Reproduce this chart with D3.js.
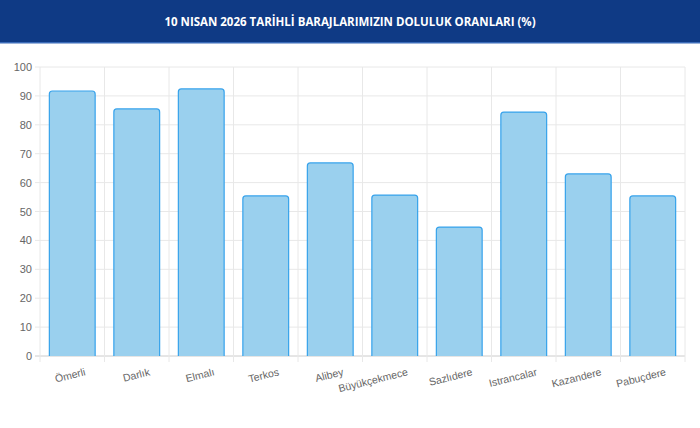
<!DOCTYPE html>
<html><head><meta charset="utf-8">
<script src="https://cdn.jsdelivr.net/npm/d3@7"></script>
<style>body{margin:0;background:#fff;font-family:"Liberation Sans",Arial,sans-serif}</style>
</head><body><div id="chart"></div>
<script>
var dams = ["Ömerli","Darlık","Elmalı","Terkos","Alibey","Büyükçekmece","Sazlıdere","Istrancalar","Kazandere","Pabuçdere"];
var levels = [91.7,85.5,92.4,55.4,66.8,55.7,44.6,84.4,63.0,55.4];
var yTicks = [0,10,20,30,40,50,60,70,80,90,100];

var W = 700, H = 428;
var svg = d3.select("#chart").append("svg").attr("width", W).attr("height", H);

// header band
svg.append("rect").attr("width", W).attr("height", 43).attr("fill", "#0f3a85");
svg.append("rect").attr("y", 42).attr("width", W).attr("height", 1.5).attr("fill", "#3b6bb8");
svg.append("text").attr("x", W/2).attr("y", 26).attr("text-anchor", "middle")
  .attr("fill", "#fff").style("font-family", "'Open Sans',sans-serif")
  .style("font-size", "11.5px").style("font-weight", "bold")
  .text("10 NISAN 2026 TARİHLİ BARAJLARIMIZIN DOLULUK ORANLARI (%)");

var pLeft = 40, pRight = 685, pTop = 67, pBottom = 356;
var x = d3.scaleBand().domain(dams).range([pLeft, pRight]).paddingInner(0.29).paddingOuter(0.145);
var y = d3.scaleLinear().domain([0,100]).range([pBottom, pTop]);
var step = (pRight-pLeft)/dams.length;

// grid
svg.append("g").selectAll("line").data(yTicks).enter().append("line")
  .attr("x1", pLeft-5).attr("x2", pRight).attr("y1", d => y(d)).attr("y2", d => y(d))
  .attr("stroke", d => d === 0 ? "#ccc" : "#e8e8e8");
svg.append("g").selectAll("line").data(d3.range(dams.length+1)).enter().append("line")
  .attr("x1", i => pLeft + i*step).attr("x2", i => pLeft + i*step)
  .attr("y1", pTop).attr("y2", pBottom+6).attr("stroke", "#e8e8e8");

svg.append("g").selectAll("text").data(yTicks).enter().append("text")
  .attr("x", pLeft-8).attr("y", d => y(d)+4).attr("text-anchor", "end")
  .attr("fill", "#666").style("font-size", "11px").text(d => d);

// bars with rounded top
svg.append("g").selectAll("path").data(dams).enter().append("path")
  .attr("d", function(d, i) {
    var x0 = x(d), w = x.bandwidth(), yt = y(levels[i]), r = 3;
    return "M" + x0 + "," + pBottom + "V" + (yt+r) + "Q" + x0 + "," + yt + " " + (x0+r) + "," + yt +
      "H" + (x0+w-r) + "Q" + (x0+w) + "," + yt + " " + (x0+w) + "," + (yt+r) + "V" + pBottom;
  })
  .attr("fill", "#9ad0ee").attr("stroke", "#36a2eb").attr("stroke-width", 1.2);

// rotated category labels
svg.append("g").selectAll("text").data(dams).enter().append("text")
  .attr("transform", d => "translate(" + (x(d)+x.bandwidth()/2+12) + "," + 368 + ") rotate(-14)")
  .attr("text-anchor", "end").attr("dy", "0.7em")
  .attr("fill", "#666").style("font-size", "10.5px").text(d => d);
</script></body></html>
